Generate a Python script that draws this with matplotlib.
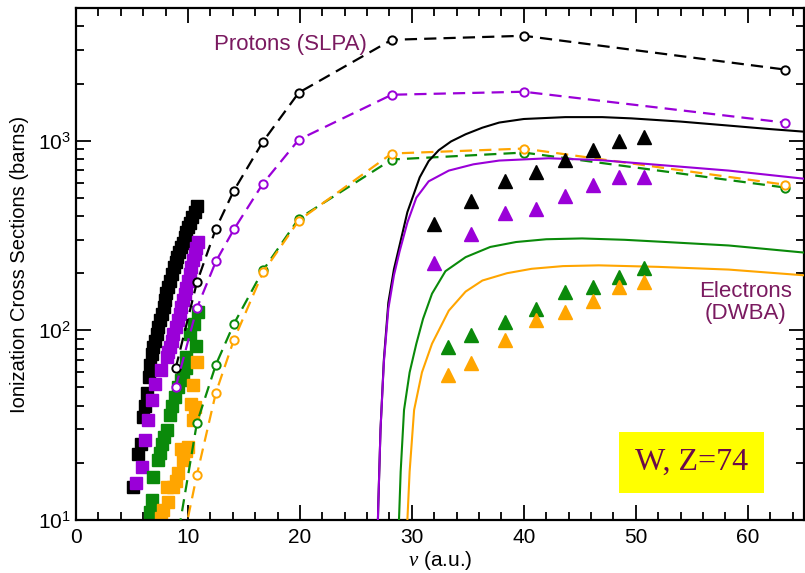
import matplotlib
matplotlib.use("Agg")
import matplotlib.pyplot as plt
from matplotlib.ticker import FixedLocator, NullFormatter, FuncFormatter
import numpy as np

plt.rcParams['font.family'] = ['Liberation Sans', 'DejaVu Sans']
plt.rcParams['mathtext.fontset'] = 'custom'
plt.rcParams['mathtext.rm'] = 'Liberation Sans'
plt.rcParams['mathtext.it'] = 'Liberation Serif:italic'

# ---- Proton SLPA theory (dashed + open circles) ----
slpa_v = [8.9, 10.8, 12.5, 14.1, 16.7, 19.9, 28.2, 40.0, 63.3]
slpa_black = [63, 179, 344, 545, 988, 1790, 3400, 3570, 2370]
slpa_purple = [50, 131, 231, 340, 594, 1012, 1745, 1810, 1245]
slpa_green = [7, 32.5, 66, 108, 207, 388, 795, 865, 566]
slpa_orange = [5, 17.3, 47, 89, 202, 379, 855, 908, 586]

# ---- Electron DWBA theory (solid) ----
dw_black_v = [26.85, 27.0, 27.2, 27.5, 27.9, 28.4, 28.9, 29.6, 30.7, 31.5, 32.4, 33.5, 34.8, 36.3,
              37.8, 40.0, 43.7, 47.0, 49.6, 54.0, 58.3, 62.0, 65.0]
dw_black = [5, 12, 30, 70, 140, 210, 280, 420, 640, 780, 890, 990, 1080, 1170,
            1245, 1300, 1330, 1330, 1310, 1260, 1200, 1150, 1115]
dw_purple_v = [26.85, 27.0, 27.2, 27.5, 27.9, 28.4, 28.9, 29.6, 30.4, 31.5, 33.3, 35.5, 37.8,
               42.2, 46.7, 52.0, 58.3, 65.0]
dw_purple = [5, 12, 30, 68, 130, 195, 260, 370, 500, 610, 695, 750, 785,
             807, 790, 745, 695, 630]
dw_green_v = [28.7, 28.85, 29.0, 29.3, 29.8, 30.4, 31.0, 31.8, 33.0, 34.8, 37.0, 39.3, 42.0,
              45.2, 49.0, 52.7, 58.3, 65.0]
dw_green = [5, 10, 18, 38, 60, 85, 115, 156, 205, 243, 275, 292, 302,
            305, 300, 292, 280, 257]
dw_orange_v = [29.45, 29.6, 29.8, 30.2, 30.9, 31.8, 33.3, 34.8, 36.3, 38.5, 40.7, 43.5, 46.7,
               52.0, 58.3, 65.0]
dw_orange = [5, 10, 18, 38, 60, 85, 127, 160, 183, 200, 211, 218, 220,
             216, 209, 195]

# ---- Electron experiments (triangles) ----
tri_v = [32.0, 35.3, 38.3, 41.1, 43.7, 46.2, 48.5, 50.7]
tri_black = [365, 483, 615, 681, 791, 893, 1000, 1040]
tri_purple = [226, 323, 415, 437, 509, 586, 641, 641]
tri_v2 = [33.2, 35.3, 38.3, 41.1, 43.7, 46.2, 48.5, 50.7]
tri_green = [81.7, 94, 111, 130, 160, 169, 191, 214]
tri_orange = [58, 67, 88.5, 114, 125, 143, 169, 180]

# ---- Proton experiments (squares) ----
sq_black_v = [10.85, 10.6, 10.4, 10.2, 10.0, 9.85, 9.71, 9.55, 9.42, 9.2, 9.03, 8.9, 8.73, 8.6,
              8.44, 8.25, 8.08, 7.95, 7.84, 7.65, 7.49, 7.35, 7.25, 7.05, 6.89, 6.75, 6.6,
              6.53, 6.3, 6.15, 6.0, 5.77, 5.55, 5.1]
sq_black = [450, 420, 394, 370, 350, 330, 310, 290, 274, 258, 243, 228, 215, 198,
            183, 170, 157, 145, 133, 122, 113, 104, 96, 88, 82, 75, 66,
            57, 47, 40, 35, 25.3, 22.4, 15]
sq_purple_v = [10.9, 10.75, 10.6, 10.45, 10.3, 10.15, 10.0, 9.85, 9.7, 9.55, 9.4, 9.25, 9.1,
               8.9, 8.7, 8.55, 8.4, 8.25, 8.1, 7.6, 7.04, 6.75, 6.44, 6.15, 5.86, 5.4]
sq_purple = [292, 272, 254, 235, 215, 198, 183, 168, 156, 144, 133, 122, 113,
             104, 96, 88, 82, 77, 72, 61.6, 52, 43, 33.6, 26.3, 19, 15.6]
sq_green_v = [10.9, 10.5, 10.7, 10.2, 9.86, 9.86, 9.6, 9.4, 9.1, 8.8, 8.6, 8.4, 8.1, 7.9, 7.7,
              7.5, 7.33, 6.9, 6.75, 6.6]
sq_green = [125, 108, 83, 96, 72, 63, 58, 54.6, 50, 44.6, 40, 35.7, 29.8, 27.5, 25.3,
            22.5, 20.7, 16.9, 12.7, 11]
sq_orange_v = [10.8, 10.45, 10.6, 10.3, 10.45, 10.0, 9.8, 9.56, 9.4, 9.1, 8.9, 8.67, 8.2, 8.1,
               7.8, 7.6]
sq_orange = [68, 51.4, 39.5, 41, 33.6, 24.3, 23, 20.7, 23.8, 17.6, 16, 15, 12.5, 15,
             11.3, 10.2]

C_BLACK = '#000000'
C_PURPLE = '#9A00D8'
C_GREEN = '#0A8A0A'
C_ORANGE = '#FFA500'
C_TEXT = '#7A1A60'

fig = plt.figure(figsize=(8.05, 5.73), dpi=100)
ax = fig.add_axes([0.0944, 0.0925, 0.904, 0.8935])
ax.set_yscale('log')

# squares
for v, s, c in [(sq_black_v, sq_black, C_BLACK), (sq_purple_v, sq_purple, C_PURPLE),
                (sq_green_v, sq_green, C_GREEN), (sq_orange_v, sq_orange, C_ORANGE)]:
    ax.plot(v, s, linestyle='none', marker='s', ms=9, color=c, mec=c, zorder=2)

# SLPA dashed
for s, c in [(slpa_black, C_BLACK), (slpa_purple, C_PURPLE),
             (slpa_green, C_GREEN), (slpa_orange, C_ORANGE)]:
    ax.plot(slpa_v, s, color=c, lw=1.6, dashes=(5.5, 3.2), marker='o', ms=6,
            mfc='white', mec=c, mew=1.4, zorder=3)

# DWBA solid
for v, s, c in [(dw_black_v, dw_black, C_BLACK), (dw_purple_v, dw_purple, C_PURPLE),
                (dw_green_v, dw_green, C_GREEN), (dw_orange_v, dw_orange, C_ORANGE)]:
    ax.plot(v, s, color=c, lw=1.5, solid_joinstyle='round', zorder=3)

# triangles
for v, s, c in [(tri_v, tri_black, C_BLACK), (tri_v, tri_purple, C_PURPLE),
                (tri_v2, tri_green, C_GREEN), (tri_v2, tri_orange, C_ORANGE)]:
    ax.plot(v, s, linestyle='none', marker='^', ms=10, color=c, mec=c, zorder=4)

ax.set_xlim(0, 65)
ax.set_ylim(10, 5000)

ax.xaxis.set_major_locator(FixedLocator([0, 10, 20, 30, 40, 50, 60]))
ax.xaxis.set_minor_locator(FixedLocator(np.arange(0, 66, 2)))
ax.yaxis.set_major_locator(FixedLocator([10, 100, 1000]))
minors = [m * d for d in (10, 100, 1000) for m in range(2, 10) if m * d <= 5000]
ax.yaxis.set_minor_locator(FixedLocator(minors))
ax.yaxis.set_minor_formatter(NullFormatter())
ax.yaxis.set_major_formatter(FuncFormatter(lambda y, p: r'$\mathregular{10^{%d}}$' % int(round(np.log10(y)))))

ax.tick_params(which='both', direction='in', top=True, right=True, width=1.3, labelsize=15, color='black')
ax.tick_params(which='major', length=11)
ax.tick_params(which='minor', length=5.5)
ax.tick_params(axis='x', pad=6)
for sp in ax.spines.values():
    sp.set_linewidth(1.6)

ax.set_ylabel('Ionization Cross Sections (barns)', fontsize=14.5, labelpad=7)
ax.set_xlabel(r'$\mathit{\nu}$ (a.u.)', fontsize=15, labelpad=1)

ax.text(0.294, 0.928, 'Protons (SLPA)', transform=ax.transAxes, fontsize=16,
        color=C_TEXT, ha='center', va='center')
ax.text(0.92, 0.425, 'Electrons\n(DWBA)', transform=ax.transAxes, fontsize=16,
        color=C_TEXT, ha='center', va='center', linespacing=1.1)

fig.text(0.859, 0.193, 'W, Z=74', fontsize=23, color='#6A0A4A', family='Liberation Serif',
         ha='center', va='center',
         bbox=dict(boxstyle='square,pad=0.5', facecolor='#FFFF00', edgecolor='none'))

fig.savefig('out.png', dpi=100)
